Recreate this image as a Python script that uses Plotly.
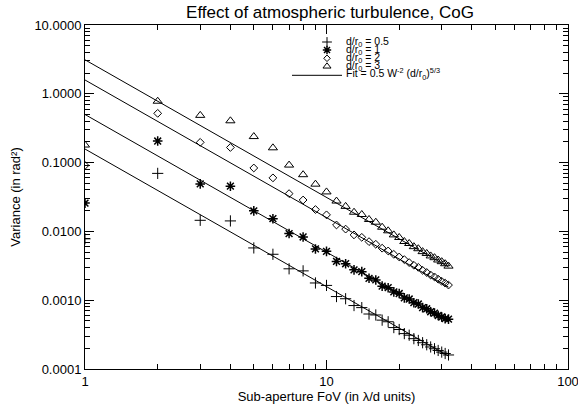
import plotly.graph_objects as go

# ---------------- data ----------------
fov = list(range(1, 33))  # sub-aperture FoV in lambda/d units

var_05 = [0.0078, 0.0697, 0.0145, 0.0142, 0.00575, 0.00465, 0.00286, 0.00267,
          0.00178, 0.00164, 0.00113, 0.00105, 0.000836, 0.00078, 0.00063, 0.00061,
          0.000513, 0.000486, 0.0004, 0.000375, 0.000327, 0.00031, 0.000276, 0.00026,
          0.000241, 0.000225, 0.000209, 0.000197, 0.000186, 0.000176, 0.000168, 0.00016]
var_1 = [0.0258, 0.206, 0.049, 0.0454, 0.0199, 0.0153, 0.0093, 0.0083,
         0.00556, 0.00513, 0.00366, 0.00339, 0.00276, 0.0026, 0.00208, 0.00197,
         0.0016, 0.00152, 0.00132, 0.00125, 0.00108, 0.00104, 0.00092, 0.00088,
         0.00078, 0.00075, 0.00068, 0.00065, 0.0006, 0.00057, 0.00054, 0.00053]
var_2 = [0.091, 0.52, 0.197, 0.166, 0.0835, 0.060, 0.0354, 0.0286,
         0.0208, 0.0174, 0.0124, 0.0108, 0.0089, 0.0082, 0.0071, 0.0065,
         0.0057, 0.0052, 0.00464, 0.00425, 0.00389, 0.00352, 0.00322, 0.0030,
         0.00272, 0.00253, 0.00232, 0.00218, 0.00202, 0.00188, 0.00177, 0.00166]
var_3 = [0.18, 0.78, 0.486, 0.405, 0.239, 0.164, 0.092, 0.0667,
         0.0486, 0.0375, 0.0276, 0.0231, 0.019, 0.0176, 0.0149, 0.0136,
         0.0115, 0.0102, 0.0089, 0.00816, 0.00713, 0.00667, 0.006, 0.0056,
         0.00508, 0.00478, 0.0044, 0.00415, 0.00384, 0.00363, 0.00339, 0.00313]

ratios = [0.5, 1, 2, 3]
labels = ["0.5", "1", "2", "3"]
fit_coef = 0.5
fit_w = [fov[0], fov[-1]]

y_tickvals = [1e-4, 1e-3, 1e-2, 1e-1, 1, 10]
y_ticktext = ["0.0001", "0.0010", "0.0100", "0.1000", "1.0000", "10.0000"]
x_tickvals = [1, 10, 100]
x_ticktext = ["1", "10", "100"]

# ---------------- layout geometry ----------------
W, H = 578, 404
L, R, T, B = 85, 10, 25, 35
PW, PH = W - L - R, H - T - B

def px_x(x):
    return (x - L) / PW

def px_y(y):
    return (H - B - y) / PH

FONT = "Liberation Sans"
symbols = ["cross-thin-open", "asterisk-open", "diamond-open", "triangle-up-open"]
sizes = [8, 8, 6, 8]
widths = [1, 1.5, 1, 1]
series = [var_05, var_1, var_2, var_3]

fig = go.Figure()

# fit lines
for r in ratios:
    fig.add_trace(go.Scatter(
        x=fit_w, y=[fit_coef * w ** -2 * r ** (5 / 3) for w in fit_w],
        mode="lines", line=dict(color="black", width=1), showlegend=False,
        hoverinfo="skip"))

# data points
for vals, sym, sz, lw in zip(series, symbols, sizes, widths):
    fig.add_trace(go.Scatter(
        x=fov, y=vals, mode="markers", showlegend=False, cliponaxis=True,
        marker=dict(symbol=sym, size=sz, color="black",
                    line=dict(color="black", width=lw))))

# manual legend keys on an overlay axis (0..1 = plot area)
leg_rows = [42, 50, 58.3, 66.3, 74.3]
for i, (sym, sz, lw) in enumerate(zip(symbols, sizes, widths)):
    fig.add_trace(go.Scatter(
        x=[px_x(327)], y=[px_y(leg_rows[i])], xaxis="x2", yaxis="y2",
        mode="markers", showlegend=False, cliponaxis=False, hoverinfo="skip",
        marker=dict(symbol=sym, size=sz - 1, color="black",
                    line=dict(color="black", width=lw))))

annotations = []
for i, lab in enumerate(labels):
    annotations.append(dict(
        x=px_x(345), y=px_y(leg_rows[i]), xref="paper", yref="paper",
        text="d/r<sub>0</sub> = " + lab, showarrow=False, xanchor="left",
        yanchor="middle", borderpad=0,
        font=dict(family=FONT, size=10.5, color="black")))
annotations.append(dict(
    x=px_x(345), y=px_y(leg_rows[4]), xref="paper", yref="paper",
    text="Fit = 0.5 W<sup>-2</sup> (d/r<sub>0</sub>)<sup>5/3</sup>",
    showarrow=False, xanchor="left", yanchor="middle", borderpad=0,
    font=dict(family=FONT, size=10.5, color="black")))

shapes = [dict(type="line", xref="paper", yref="paper",
               x0=px_x(292), x1=px_x(342), y0=px_y(leg_rows[4] + 1),
               y1=px_y(leg_rows[4] + 1), line=dict(color="black", width=1))]

axis_common = dict(
    showline=True, linecolor="black", linewidth=1, mirror="ticks",
    ticks="inside", ticklen=9, tickcolor="black", tickwidth=1,
    showgrid=False, zeroline=False, ticklabeloverflow="allow",
    tickfont=dict(family=FONT, size=13, color="black"),
    minor=dict(ticks="inside", ticklen=5, tickcolor="black", tickwidth=1,
               dtick="D1", showgrid=False),
)

fig.update_layout(
    width=W, height=H,
    margin=dict(l=L, r=R, t=T, b=B, autoexpand=False),
    paper_bgcolor="white", plot_bgcolor="white",
    showlegend=False,
    title=dict(text="Effect of atmospheric turbulence, CoG", x=330 / W,
               xanchor="center", y=1 - 12 / H, yanchor="middle",
               font=dict(family=FONT, size=17, color="black")),
    xaxis=dict(type="log", range=[0, 2], tickvals=x_tickvals, ticktext=x_ticktext,
               title=dict(text="Sub-aperture FoV (in λ/d units)",
                          font=dict(family=FONT, size=13, color="black"), standoff=4),
               **axis_common),
    yaxis=dict(type="log", range=[-4, 1], tickvals=y_tickvals, ticktext=y_ticktext,
               title=dict(text="Variance (in rad²)",
                          font=dict(family=FONT, size=13, color="black"), standoff=10),
               **axis_common),
    xaxis2=dict(overlaying="x", range=[0, 1], visible=False, domain=[0, 1]),
    yaxis2=dict(overlaying="y", range=[0, 1], visible=False, domain=[0, 1]),
    annotations=annotations,
    shapes=shapes,
)

fig.write_html("out.html", config={"displayModeBar": False},
               post_script="document.body.style.margin='0';document.body.style.padding='0';")
